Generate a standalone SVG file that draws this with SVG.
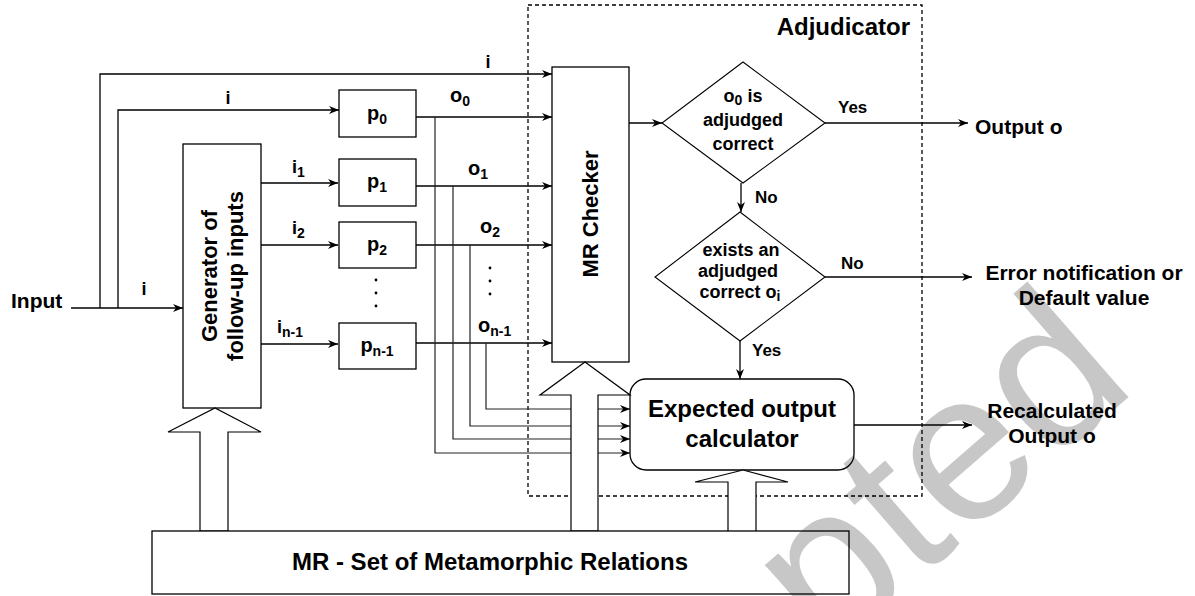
<svg xmlns="http://www.w3.org/2000/svg" width="1195" height="596" viewBox="0 0 1195 596">
<defs>
<style>
.ln{stroke:#000;stroke-width:1.3;fill:none}
.tap{stroke:#222;stroke-width:1.2;fill:none}
.box{fill:#fff;stroke:#000;stroke-width:1.3}
.blk{fill:#fff;stroke:#000;stroke-width:1.2}
.dash{fill:none;stroke:#000;stroke-width:1.3;stroke-dasharray:4 3}
text{font-family:"Liberation Sans",Arial,Helvetica,sans-serif;font-weight:bold;fill:#000}
.lab{font-size:18px}
.yn{font-size:17px}
.big{font-size:21px}
.nd{font-size:24px}
.dm{font-size:18px}
.pl{font-size:20px}
.rot{font-size:22px}
.sub{font-size:14px}
</style>
<marker id="ah" markerWidth="11" markerHeight="9" refX="10" refY="4.5" orient="auto" markerUnits="userSpaceOnUse">
<path d="M0,0.5 L10,4.5 L0,8.5 L3,4.5 Z" fill="#000"/>
</marker>
</defs>
<rect width="1195" height="596" fill="#fff"/>

<g id="adjudicator">
<rect class="dash" x="528" y="5" width="394" height="491"/>
<text class="nd" x="910" y="35" text-anchor="end">Adjudicator</text>
</g>

<g id="connectors">
<path class="ln" d="M71,308 H183" marker-end="url(#ah)"/>
<path class="ln" d="M100,308 V74 H552" marker-end="url(#ah)"/>
<path class="ln" d="M118,308 V110 H339" marker-end="url(#ah)"/>
<path class="ln" d="M261,183 H338" marker-end="url(#ah)"/>
<path class="ln" d="M261,245 H338" marker-end="url(#ah)"/>
<path class="ln" d="M261,344 H338" marker-end="url(#ah)"/>
<path class="ln" d="M416,117 H552" marker-end="url(#ah)"/>
<path class="ln" d="M416,186 H552" marker-end="url(#ah)"/>
<path class="ln" d="M416,245 H552" marker-end="url(#ah)"/>
<path class="ln" d="M416,343 H552" marker-end="url(#ah)"/>
<path class="tap" d="M435,117 V453 H630" marker-end="url(#ah)"/>
<path class="tap" d="M453,186 V439 H630" marker-end="url(#ah)"/>
<path class="tap" d="M470,245 V426 H630" marker-end="url(#ah)"/>
<path class="tap" d="M486,343 V409 H630" marker-end="url(#ah)"/>
<path class="ln" d="M629,123 H662" marker-end="url(#ah)"/>
<path class="ln" d="M825,123 H968" marker-end="url(#ah)"/>
<path class="ln" d="M741,183 V212" marker-end="url(#ah)"/>
<path class="ln" d="M825,277 H972" marker-end="url(#ah)"/>
<path class="ln" d="M740,341 V379" marker-end="url(#ah)"/>
<path class="ln" d="M854,425 H972" marker-end="url(#ah)"/>
<circle cx="376" cy="280" r="1.4"/>
<circle cx="376" cy="293" r="1.4"/>
<circle cx="376" cy="306" r="1.4"/>
<circle cx="490" cy="268" r="1.4"/>
<circle cx="490" cy="281" r="1.4"/>
<circle cx="490" cy="294" r="1.4"/>
<text class="lab" x="144" y="295" text-anchor="middle">i</text>
<text class="lab" x="228" y="104" text-anchor="middle">i</text>
<text class="lab" x="488" y="68" text-anchor="middle">i</text>
<text class="lab" x="292" y="173">i<tspan class="sub" dy="4">1</tspan></text>
<text class="lab" x="292" y="234">i<tspan class="sub" dy="4">2</tspan></text>
<text class="lab" x="277" y="333">i<tspan class="sub" dy="4">n-1</tspan></text>
<text class="pl" x="450" y="102">o<tspan class="sub" dy="4">0</tspan></text>
<text class="pl" x="468" y="175">o<tspan class="sub" dy="4">1</tspan></text>
<text class="pl" x="480" y="233">o<tspan class="sub" dy="4">2</tspan></text>
<text class="pl" x="478" y="332">o<tspan class="sub" dy="4">n-1</tspan></text>
<text class="yn" x="838" y="113">Yes</text>
<text class="yn" x="755" y="203">No</text>
<text class="yn" x="841" y="269">No</text>
<text class="yn" x="752" y="356">Yes</text>
</g>

<g id="input">
<text class="big" x="11" y="308">Input</text>
</g>

<g id="generator">
<rect class="box" x="183" y="144" width="78" height="264"/>
<g transform="translate(222,276) rotate(-90)">
<text class="rot" x="0" y="-5" text-anchor="middle">Generator of</text>
<text class="rot" x="0" y="21" text-anchor="middle">follow-up inputs</text>
</g>
</g>

<g id="p0">
<rect class="box" x="339" y="90" width="77" height="47"/>
<text class="pl" x="377" y="120" text-anchor="middle">p<tspan class="sub" dy="4">0</tspan></text>
</g>
<g id="p1">
<rect class="box" x="339" y="159" width="77" height="47"/>
<text class="pl" x="377" y="188" text-anchor="middle">p<tspan class="sub" dy="4">1</tspan></text>
</g>
<g id="p2">
<rect class="box" x="339" y="222" width="77" height="46"/>
<text class="pl" x="377" y="251" text-anchor="middle">p<tspan class="sub" dy="4">2</tspan></text>
</g>
<g id="pn1">
<rect class="box" x="339" y="323" width="77" height="46"/>
<text class="pl" x="377" y="352" text-anchor="middle">p<tspan class="sub" dy="4">n-1</tspan></text>
</g>

<g id="mr-checker">
<rect class="box" x="552" y="67" width="77" height="295"/>
<text class="rot" transform="translate(590,214) rotate(-90)" x="0" y="8" text-anchor="middle">MR Checker</text>
</g>

<g id="decision1">
<polygon points="743,62 825,123 743,183 662,123" fill="#fff" stroke="#000" stroke-width="1.1"/>
<text class="dm" x="743" y="102" text-anchor="middle">o<tspan class="sub" dy="3">0</tspan><tspan dy="-3"> is</tspan></text>
<text class="dm" x="743" y="126" text-anchor="middle">adjudged</text>
<text class="dm" x="743" y="150" text-anchor="middle">correct</text>
</g>

<g id="decision2">
<polygon points="740,212 825,277 740,341 655,277" fill="#fff" stroke="#000" stroke-width="1.1"/>
<text class="dm" x="741" y="256" text-anchor="middle">exists an</text>
<text class="dm" x="738" y="277" text-anchor="middle">adjudged</text>
<text class="dm" x="740" y="298" text-anchor="middle">correct o<tspan class="sub" dy="3">i</tspan></text>
</g>

<g id="output-o">
<text class="big" x="975" y="134">Output o</text>
</g>
<g id="error-out">
<text class="big" x="1084" y="280" text-anchor="middle">Error notification or</text>
<text class="big" x="1084" y="305" text-anchor="middle">Default value</text>
</g>
<g id="recalc-out">
<text class="big" x="1052" y="418" text-anchor="middle">Recalculated</text>
<text class="big" x="1052" y="443" text-anchor="middle">Output o</text>
</g>

<g id="expected-calc">
<rect class="box" x="630" y="379" width="224" height="91" rx="16" ry="16"/>
<text class="nd" x="742" y="417" text-anchor="middle">Expected output</text>
<text class="nd" x="742" y="447" text-anchor="middle">calculator</text>
</g>

<g id="block-arrows">
<polygon class="blk" points="200,531 200,432 168,432 215,408 261,432 228,432 228,531"/>
<polygon class="blk" points="571,531 571,395 540,395 585,362 630,395 598,395 598,531"/>
<polygon class="blk" points="728,532 728,482 695,482 743,470 788,482 756,482 756,532"/>
</g>

<g id="mr-set">
<rect class="box" x="152" y="531" width="697" height="63"/>
<text class="nd" x="490" y="570" text-anchor="middle">MR - Set of Metamorphic Relations</text>
</g>

<g id="watermark">
<text transform="translate(472,968) rotate(-41)" style="font-size:212px;font-weight:normal" fill="#000" fill-opacity="0.22">Accepted</text>
</g>
</svg>
